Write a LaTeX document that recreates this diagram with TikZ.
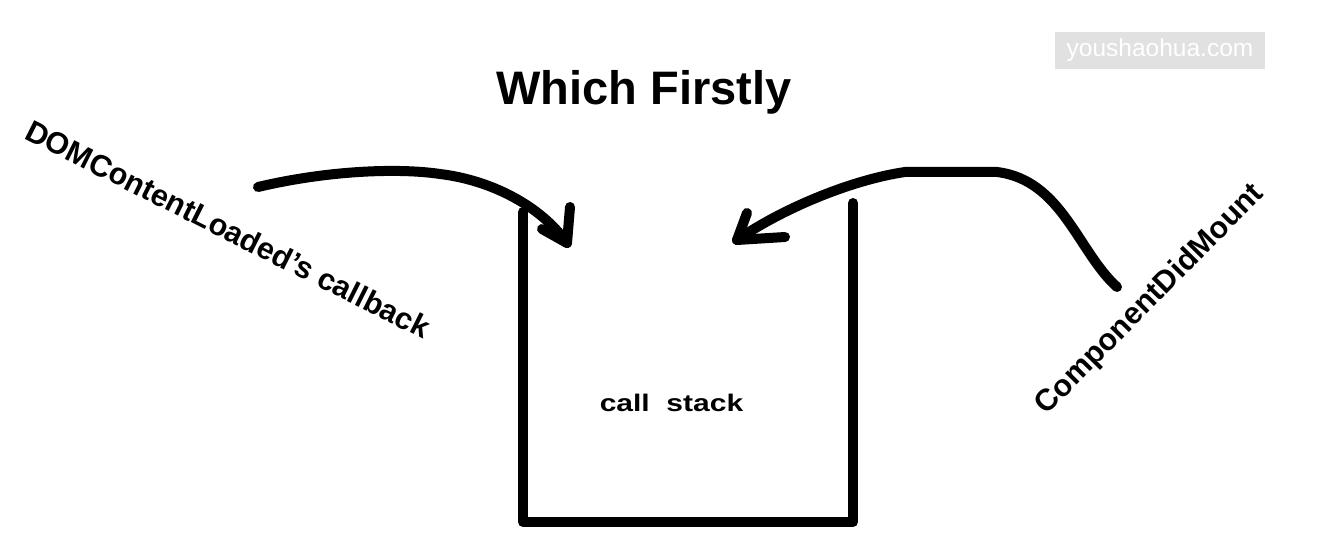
\documentclass[tikz,border=0pt]{standalone}
\usepackage{fontspec}
\setmainfont{Liberation Sans}
\usepackage{graphicx}
\definecolor{wmgray}{RGB}{225,225,225}

\begin{document}
\begin{tikzpicture}[x=1bp, y=-1bp,
    pen/.style={line width=10bp, line cap=round, line join=round},
    handtext/.style={font=\bfseries\fontsize{30.5bp}{35bp}\selectfont, inner sep=0pt}]
    \useasboundingbox (0,0) rectangle (1344,553);

    \node[fill=wmgray, minimum width=210bp, minimum height=37bp, inner sep=0pt, text=white,
          font=\fontsize{24.5bp}{28bp}\selectfont] (watermark) at (1160,50.5) {youshaohua.com};
    \node[anchor=base, font=\bfseries\fontsize{47bp}{56bp}\selectfont] (title) at (644,105) {Which Firstly};

    \node[handtext, rotate=-26.7] (domLabel) at (228,229) {DOMContentLoaded’s callback};
    \node[handtext, rotate=45.4] (mountLabel) at (1150,300) {ComponentDidMount};

    % the stack
    \coordinate (stackTL) at (523,212);
    \coordinate (stackBL) at (523,522);
    \coordinate (stackBR) at (853,522);
    \coordinate (stackTR) at (853,203);
    \draw[pen] (stackTL) -- (stackBL) -- (stackBR) -- (stackTR);
    \node[anchor=base, font=\bfseries\fontsize{24bp}{28bp}\selectfont] (stackLabel) at (671.5,411) {\scalebox{1.25}[1]{call\ \ stack}};

    % left arrow
    \coordinate (tailL) at (258,187);
    \coordinate (tipL) at (567,243);
    \draw[pen] (tailL) .. controls (330,170) and (400,168) .. (440,174)
               .. controls (490,180) and (540,205) .. (tipL);
    \draw[pen] (tipL) -- ++(3,-36);
    \draw[pen] (tipL) -- ++(-25,-14);

    % right arrow
    \coordinate (tailR) at (1117,287);
    \coordinate (tipR) at (737,240);
    \draw[pen] (tailR) .. controls (1078,252) and (1062,180) .. (997,172) -- (905,172)
               .. controls (850,180) and (780,210) .. (tipR);
    \draw[pen] (tipR) -- ++(10,-27);
    \draw[pen] (tipR) -- ++(48,-3);
\end{tikzpicture}
\end{document}
